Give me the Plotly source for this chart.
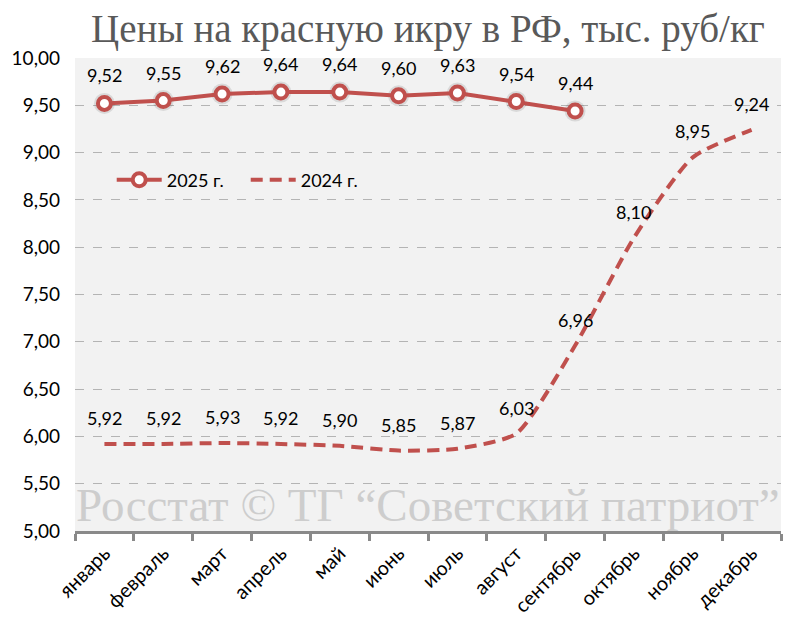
import plotly.graph_objects as go

months = ["январь", "февраль", "март", "апрель", "май", "июнь", "июль",
          "август", "сентябрь", "октябрь", "ноябрь", "декабрь"]
prices_2025 = [9.52, 9.55, 9.62, 9.64, 9.64, 9.60, 9.63, 9.54, 9.44]
prices_2024 = [5.92, 5.92, 5.93, 5.92, 5.90, 5.85, 5.87, 6.03, 6.96, 8.10, 8.95, 9.24]

RED = "#c0504d"
SANS = "Lato, Carlito, sans-serif"
LABEL_FONT = dict(family=SANS, size=18, color="#000000")


def fmt(v):
    return f"{v:.2f}".replace(".", ",")


fig = go.Figure()

fig.add_trace(go.Scatter(
    x=months, y=prices_2024, name="2024 г.", mode="lines",
    line=dict(color=RED, width=4, dash="12px,7px", shape="spline", smoothing=0.6),
))

# soft glow under markers
fig.add_trace(go.Scatter(
    x=months[:len(prices_2025)], y=prices_2025, mode="markers",
    marker=dict(size=21, color="rgba(0,0,0,0.10)", line=dict(width=0)),
    showlegend=False, hoverinfo="skip",
))

fig.add_trace(go.Scatter(
    x=months[:len(prices_2025)], y=prices_2025, name="2025 г.", mode="lines+markers",
    line=dict(color=RED, width=4),
    marker=dict(size=13, color="white", line=dict(color=RED, width=4)),
))

annotations = []
for m, v in zip(months, prices_2024):
    annotations.append(dict(x=m, y=v, xref="x", yref="y", text=fmt(v), showarrow=False,
                            yshift=26, xanchor="center", yanchor="middle", font=LABEL_FONT))
for m, v in zip(months, prices_2025):
    annotations.append(dict(x=m, y=v, xref="x", yref="y", text=fmt(v), showarrow=False,
                            yshift=28, xanchor="center", yanchor="middle", font=LABEL_FONT))
annotations.append(dict(
    text="Росстат © ТГ “Советский патриот”", xref="paper", yref="paper",
    x=0.5, y=0.055, xanchor="center", yanchor="middle", showarrow=False,
    font=dict(family="Liberation Serif, serif", size=47, color="#cdcdcd"),
))

fig.update_layout(
    width=800, height=634,
    margin=dict(l=75, r=19, t=58, b=103),
    paper_bgcolor="white", plot_bgcolor="#f2f2f2",
    separators=", ",
    title=dict(text="Цены на красную икру в РФ, тыс. руб/кг",
               font=dict(family="Liberation Serif, serif", size=39, color="#595959"),
               x=0.535, xanchor="center", y=0.956, yanchor="middle"),
    legend=dict(orientation="h", x=0.052, y=0.742, xanchor="left", yanchor="middle",
                bgcolor="rgba(0,0,0,0)", traceorder="reversed",
                font=dict(family=SANS, size=18, color="#000000"),
                itemwidth=45, entrywidth=74),
    showlegend=True,
    annotations=annotations,
)

fig.update_xaxes(
    type="category", tickson="boundaries", ticks="outside", ticklen=7,
    tickcolor="#898989", tickwidth=3, showline=True, linecolor="#898989", linewidth=3,
    showgrid=False, tickangle=-45,
    tickfont=dict(family=SANS, size=20, color="#000000"),
    range=[-0.5, 11.5],
)
fig.update_yaxes(
    range=[5, 10], dtick=0.5, tickformat=".2f",
    showgrid=True, gridcolor="#b4b4b4", griddash="dash", gridwidth=1,
    zeroline=False, showline=False, ticks="",
    tickfont=dict(family=SANS, size=19, color="#000000"),
    ticklabelstandoff=14,
)

fig.write_html("out.html")
